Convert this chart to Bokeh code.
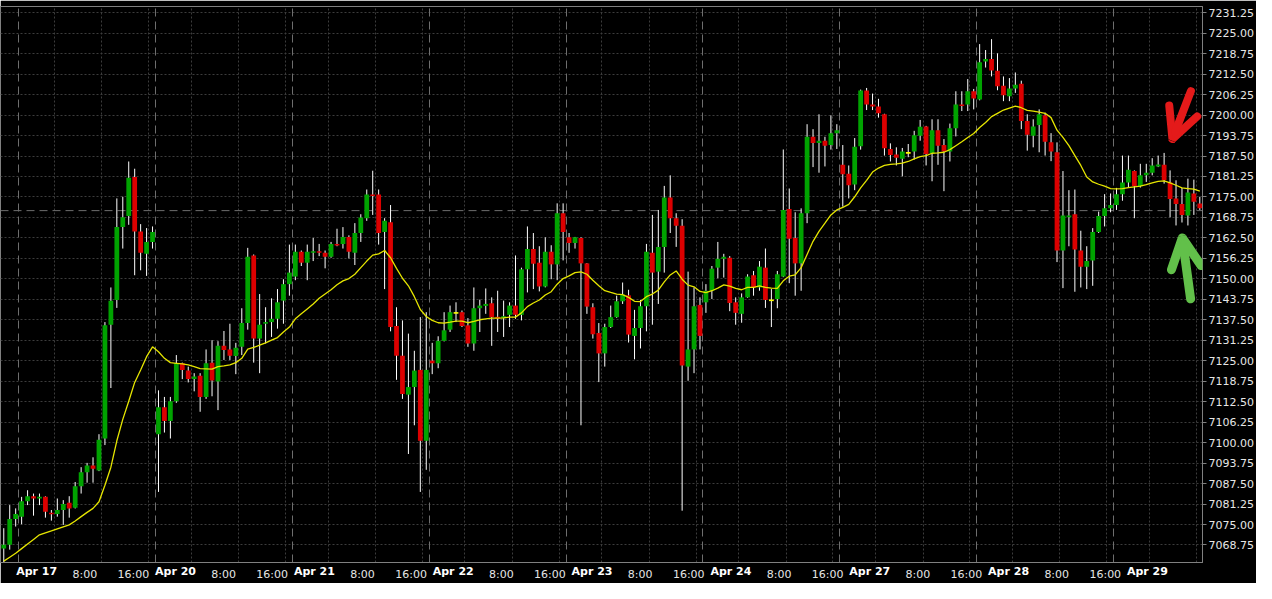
from bokeh.plotting import figure
from bokeh.models import (ColumnDataSource, FixedTicker, Range1d, Span, LinearAxis,
                          Grid, PrintfTickFormatter, Arrow, OpenHead)
from bokeh.embed import file_html
from bokeh.resources import INLINE

# ---------------- data (hourly candles) ----------------
open_ = [7067.64, 7068.84, 7076.70, 7077.40, 7082.13, 7083.64, 7082.94, 7083.44, 7078.61, 7078.21,
         7079.42, 7081.63, 7080.12, 7086.66, 7090.99, 7093.01, 7091.50, 7101.26, 7136.00, 7143.55,
         7165.80, 7169.22, 7181.10, 7164.49, 7157.64, 7161.27, 7102.57, 7110.83, 7106.60, 7112.64,
         7124.22, 7122.00, 7119.39, 7120.39, 7113.95, 7124.42, 7118.68, 7129.55, 7128.45, 7126.43,
         7129.25, 7136.50, 7157.14, 7131.77, 7136.30, 7136.80, 7137.81, 7143.35, 7148.38, 7150.70,
         7158.25, 7154.93, 7157.95, 7158.45, 7157.95, 7156.74, 7160.66, 7160.66, 7162.78, 7157.95,
         7163.99, 7168.52, 7175.77, 7175.77, 7164.29, 7167.31, 7135.60, 7126.53, 7114.65, 7116.97,
         7122.20, 7100.56, 7125.02, 7124.22, 7131.06, 7134.49, 7139.60, 7139.82, 7135.80, 7130.26,
         7141.03, 7141.74, 7142.54, 7138.31, 7138.01, 7139.02, 7141.84, 7139.02, 7152.91, 7159.15,
         7154.93, 7147.68, 7158.25, 7154.42, 7170.03, 7162.68, 7160.97, 7162.48, 7154.72, 7141.33,
         7133.48, 7127.24, 7135.29, 7138.31, 7143.15, 7144.96, 7132.57, 7134.99, 7141.64, 7157.95,
         7152.21, 7159.76, 7174.86, 7168.52, 7166.20, 7123.21, 7128.45, 7142.04, 7142.84, 7146.37,
         7153.42, 7156.13, 7156.44, 7142.84, 7139.32, 7144.35, 7151.10, 7147.37, 7153.42, 7143.45,
         7143.85, 7150.70, 7171.34, 7162.48, 7154.72, 7170.02, 7193.38, 7191.47, 7192.17, 7190.86,
         7194.49, 7184.82, 7182.10, 7178.78, 7190.46, 7207.48, 7203.25, 7202.64, 7200.23, 7189.66,
         7187.94, 7186.64, 7188.45, 7188.85, 7193.68, 7196.50, 7188.45, 7195.39, 7190.86, 7188.85,
         7196.00, 7203.25, 7203.25, 7207.27, 7204.76, 7216.34, 7217.14, 7213.52, 7208.99, 7205.76,
         7208.08, 7209.59, 7198.21, 7193.68, 7197.00, 7199.92, 7191.67, 7188.65, 7158.65, 7168.81,
         7169.72, 7158.65, 7153.71, 7155.63, 7164.28, 7169.22, 7171.53, 7172.54, 7175.86, 7179.39,
         7182.91, 7178.38, 7181.60, 7182.41, 7184.32, 7184.82, 7179.39, 7174.55, 7172.84, 7169.32,
         7176.06, 7173.04]

high = [7073.88, 7080.93, 7079.92, 7083.44, 7085.46, 7084.45, 7084.45, 7083.60, 7079.42, 7082.94,
        7082.44, 7083.64, 7087.97, 7092.50, 7093.81, 7095.52, 7102.57, 7136.80, 7147.37, 7174.56,
        7175.06, 7185.83, 7183.62, 7166.71, 7165.50, 7166.00, 7115.96, 7113.95, 7113.95, 7126.73,
        7124.42, 7123.21, 7121.20, 7121.20, 7128.45, 7131.27, 7130.97, 7134.08, 7136.30, 7130.46,
        7141.03, 7159.46, 7157.44, 7145.36, 7141.33, 7144.05, 7146.87, 7149.89, 7160.46, 7160.46,
        7158.65, 7160.46, 7162.48, 7160.66, 7158.65, 7161.27, 7165.30, 7165.80, 7163.28, 7167.01,
        7169.73, 7177.28, 7183.01, 7177.28, 7168.52, 7172.54, 7141.33, 7137.31, 7133.28, 7128.04,
        7138.31, 7139.82, 7130.46, 7132.47, 7139.82, 7141.84, 7142.84, 7140.33, 7138.01, 7147.37,
        7143.65, 7147.07, 7144.35, 7146.37, 7143.35, 7142.84, 7157.14, 7153.41, 7166.00, 7163.99,
        7159.96, 7162.68, 7160.26, 7173.05, 7173.05, 7163.99, 7162.80, 7162.68, 7154.80, 7142.54,
        7136.50, 7136.30, 7141.84, 7144.86, 7148.88, 7146.67, 7140.53, 7143.55, 7160.66, 7169.52,
        7171.03, 7178.38, 7181.61, 7170.03, 7168.22, 7152.21, 7147.37, 7144.35, 7148.38, 7153.92,
        7161.27, 7157.64, 7156.94, 7144.35, 7145.56, 7151.40, 7152.41, 7155.43, 7159.26, 7146.87,
        7152.41, 7189.50, 7177.58, 7170.33, 7171.53, 7197.21, 7195.70, 7200.23, 7193.38, 7199.92,
        7197.21, 7190.86, 7184.62, 7192.98, 7207.78, 7208.28, 7206.57, 7204.96, 7200.40, 7191.37,
        7190.16, 7189.96, 7191.17, 7195.19, 7198.52, 7196.70, 7198.72, 7198.72, 7192.68, 7197.41,
        7207.27, 7207.27, 7211.00, 7207.98, 7221.67, 7219.86, 7223.18, 7218.85, 7211.80, 7211.30,
        7213.01, 7210.50, 7200.23, 7198.72, 7201.74, 7200.73, 7194.49, 7191.67, 7182.91, 7177.07,
        7177.27, 7164.69, 7159.96, 7165.49, 7170.53, 7175.86, 7176.06, 7177.77, 7187.64, 7187.64,
        7183.11, 7185.12, 7185.12, 7186.84, 7187.64, 7188.45, 7183.11, 7180.09, 7177.77, 7180.59,
        7180.29, 7175.06]

low = [7061.80, 7067.33, 7074.38, 7075.09, 7080.93, 7077.70, 7080.93, 7077.10, 7076.19, 7077.40,
       7074.88, 7077.10, 7079.90, 7084.45, 7087.77, 7087.77, 7091.30, 7099.25, 7116.67, 7141.13,
       7159.25, 7166.50, 7151.10, 7152.61, 7150.90, 7159.25, 7084.95, 7103.08, 7101.26, 7112.14,
       7119.39, 7118.38, 7115.66, 7109.42, 7113.35, 7114.15, 7109.92, 7125.23, 7125.23, 7120.90,
       7126.73, 7134.49, 7124.42, 7121.20, 7130.26, 7132.27, 7134.79, 7136.30, 7144.86, 7149.59,
       7153.92, 7149.59, 7155.43, 7156.94, 7153.21, 7156.44, 7159.96, 7159.25, 7156.23, 7154.22,
       7161.27, 7167.71, 7169.52, 7160.46, 7146.87, 7133.98, 7119.18, 7113.35, 7096.53, 7105.29,
       7084.95, 7091.70, 7120.90, 7122.71, 7130.90, 7133.78, 7136.80, 7135.29, 7129.25, 7128.04,
       7133.78, 7139.32, 7129.55, 7133.78, 7132.27, 7135.29, 7137.81, 7137.31, 7145.86, 7146.87,
       7146.17, 7147.40, 7149.89, 7149.59, 7155.63, 7157.95, 7159.25, 7105.29, 7139.32, 7131.77,
       7118.48, 7123.21, 7135.00, 7138.10, 7142.34, 7130.56, 7125.43, 7128.75, 7133.98, 7136.00,
       7142.34, 7151.91, 7163.99, 7159.76, 7079.21, 7118.88, 7121.20, 7128.45, 7139.62, 7143.85,
       7150.19, 7150.39, 7140.13, 7136.00, 7136.60, 7144.20, 7144.86, 7146.37, 7141.13, 7135.29,
       7141.03, 7150.50, 7148.68, 7144.86, 7146.36, 7167.00, 7184.12, 7182.41, 7184.32, 7189.45,
       7189.65, 7172.04, 7174.55, 7177.07, 7189.45, 7201.54, 7201.54, 7199.22, 7187.64, 7185.83,
       7184.62, 7181.30, 7187.14, 7186.43, 7192.17, 7184.62, 7179.79, 7184.82, 7176.77, 7185.83,
       7193.48, 7201.23, 7201.23, 7201.74, 7204.50, 7214.52, 7211.81, 7207.58, 7204.25, 7204.25,
       7206.77, 7195.70, 7189.15, 7190.16, 7188.65, 7187.64, 7185.93, 7155.12, 7147.17, 7159.95,
       7146.06, 7147.37, 7146.87, 7147.87, 7164.00, 7166.00, 7170.32, 7171.03, 7173.85, 7177.77,
       7168.51, 7177.88, 7179.59, 7181.60, 7184.12, 7179.08, 7168.81, 7166.30, 7167.20, 7166.30,
       7169.52, 7171.03]

close = [7068.84, 7076.70, 7078.21, 7082.13, 7083.64, 7082.94, 7083.44, 7078.91, 7078.11, 7079.42,
         7081.23, 7079.92, 7086.66, 7090.99, 7093.01, 7092.00, 7100.86, 7135.80, 7143.35, 7165.80,
         7168.82, 7180.90, 7164.49, 7157.95, 7161.27, 7164.29, 7110.83, 7106.60, 7112.64, 7124.22,
         7122.20, 7119.39, 7120.19, 7113.95, 7124.22, 7118.98, 7129.55, 7128.25, 7126.53, 7128.95,
         7136.50, 7156.74, 7131.77, 7136.00, 7136.80, 7137.81, 7142.84, 7148.38, 7151.91, 7158.25,
         7154.93, 7158.25, 7158.45, 7157.95, 7156.74, 7160.66, 7160.16, 7162.78, 7158.25, 7163.99,
         7168.72, 7175.77, 7175.26, 7163.99, 7167.71, 7135.29, 7126.53, 7114.85, 7116.97, 7122.00,
         7100.56, 7122.20, 7124.22, 7131.06, 7134.29, 7139.82, 7139.60, 7135.60, 7130.26, 7141.03,
         7141.84, 7142.34, 7138.31, 7138.01, 7138.61, 7141.84, 7139.02, 7152.91, 7159.15, 7154.62,
         7147.68, 7158.25, 7154.42, 7170.03, 7164.29, 7160.97, 7162.68, 7154.72, 7141.53, 7133.08,
         7127.24, 7135.29, 7138.31, 7143.15, 7145.16, 7132.98, 7134.99, 7141.64, 7158.25, 7151.91,
         7159.76, 7174.86, 7168.52, 7166.20, 7123.51, 7128.45, 7141.64, 7132.57, 7146.37, 7153.11,
         7156.13, 7156.74, 7142.64, 7139.62, 7144.35, 7150.70, 7147.37, 7153.72, 7143.55, 7143.45,
         7151.40, 7171.03, 7162.28, 7154.72, 7170.02, 7193.38, 7191.47, 7192.17, 7190.66, 7194.49,
         7195.39, 7181.90, 7178.58, 7190.36, 7207.48, 7203.25, 7202.64, 7200.53, 7189.86, 7187.84,
         7186.94, 7188.85, 7188.45, 7193.88, 7196.40, 7188.14, 7195.39, 7190.66, 7188.85, 7196.00,
         7203.25, 7202.74, 7207.27, 7205.06, 7216.13, 7217.14, 7213.62, 7208.78, 7206.07, 7208.08,
         7209.29, 7198.21, 7193.98, 7196.50, 7200.23, 7191.87, 7188.85, 7158.65, 7169.32, 7169.32,
         7158.95, 7153.71, 7155.42, 7164.29, 7169.22, 7171.53, 7172.54, 7175.86, 7179.39, 7183.31,
         7178.38, 7181.60, 7182.41, 7184.62, 7184.92, 7180.09, 7174.35, 7172.84, 7169.52, 7176.37,
         7173.55, 7171.53]

moving_avg = [7063.81, 7065.02, 7066.23, 7067.64, 7069.05, 7070.45, 7071.86, 7072.47, 7073.07, 7073.68,
              7074.28, 7074.88, 7076.09, 7077.40, 7078.71, 7079.92, 7081.93, 7086.97, 7092.50, 7100.56,
              7107.10, 7112.64, 7118.38, 7122.20, 7126.23, 7129.25, 7127.74, 7125.73, 7124.42, 7124.22,
              7124.02, 7123.71, 7123.21, 7122.61, 7122.51, 7122.41, 7123.21, 7123.41, 7123.71, 7124.42,
              7125.73, 7128.55, 7129.05, 7129.76, 7130.46, 7131.27, 7132.07, 7133.78, 7135.29, 7137.81,
              7139.32, 7140.83, 7142.34, 7144.05, 7145.36, 7146.67, 7148.18, 7149.39, 7150.09, 7151.40,
              7153.42, 7155.43, 7157.24, 7157.64, 7158.65, 7156.44, 7153.21, 7150.19, 7147.88, 7144.56,
              7140.63, 7138.51, 7137.31, 7136.60, 7136.50, 7136.80, 7137.11, 7137.11, 7136.60, 7137.00,
              7137.51, 7137.81, 7138.01, 7138.01, 7138.11, 7138.31, 7138.31, 7139.62, 7141.53, 7142.64,
              7143.55, 7145.06, 7146.07, 7148.38, 7150.09, 7150.90, 7151.90, 7152.11, 7151.40, 7149.59,
              7147.88, 7146.37, 7145.86, 7145.36, 7145.16, 7144.35, 7143.15, 7143.05, 7144.56, 7145.36,
              7146.57, 7149.09, 7151.20, 7152.41, 7149.89, 7148.08, 7147.58, 7146.17, 7145.76, 7146.37,
              7147.17, 7148.18, 7147.78, 7147.07, 7146.67, 7147.37, 7147.37, 7147.88, 7147.37, 7147.17,
              7147.07, 7149.39, 7150.80, 7151.20, 7153.41, 7157.44, 7161.46, 7164.49, 7167.00, 7169.52,
              7171.03, 7171.83, 7172.74, 7175.06, 7177.77, 7180.09, 7182.61, 7183.82, 7184.62, 7184.92,
              7185.12, 7185.33, 7185.83, 7186.63, 7187.34, 7187.64, 7188.35, 7188.45, 7188.65, 7189.45,
              7190.66, 7191.87, 7193.18, 7194.39, 7196.20, 7197.71, 7199.52, 7200.53, 7201.54, 7202.14,
              7202.74, 7202.24, 7201.44, 7201.23, 7200.93, 7200.53, 7199.22, 7195.39, 7193.18, 7190.66,
              7187.64, 7184.62, 7181.10, 7179.59, 7178.88, 7178.28, 7177.57, 7177.47, 7177.57, 7177.88,
              7178.08, 7178.28, 7178.78, 7179.29, 7179.79, 7179.89, 7179.29, 7178.58, 7177.77, 7177.57,
              7177.37, 7176.77]

# first candle of every trading day (index into the arrays)
day_start = [3, 26, 49, 72, 95, 118, 141, 164, 187]
day_labels = ["Apr 17", "Apr 20", "Apr 21", "Apr 22", "Apr 23", "Apr 24", "Apr 27", "Apr 28", "Apr 29"]
hour_labels = ["8:00", "16:00"]
price_ticks = [7068.75, 7075.00, 7081.25, 7087.50, 7093.75, 7100.00, 7106.25, 7112.50, 7118.75,
               7125.00, 7131.25, 7137.50, 7143.75, 7150.00, 7156.25, 7162.50, 7168.75, 7175.00,
               7181.25, 7187.50, 7193.75, 7200.00, 7206.25, 7212.50, 7218.75, 7225.00, 7231.25]
bid_price = 7170.83

# ---------------- styling ----------------
UP, DOWN, DOJI = "#00a300", "#dc0000", "#ffff00"
GRID, SEP, FRAME = "#3c3c3c", "#6e6e6e", "#808080"
FONT = "DejaVu Sans"

N = len(close)
idx = list(range(N))
body_top, body_bot, colors = [], [], []
for o, c in zip(open_, close):
    top, bot = max(o, c), min(o, c)
    if top - bot < 0.5:
        mid = (top + bot) / 2.0
        top, bot = mid + 0.25, mid - 0.25
    body_top.append(top)
    body_bot.append(bot)
    colors.append(UP if c > o else (DOWN if c < o else DOJI))

src = ColumnDataSource(dict(x=idx, h=high, l=low, top=body_top, bot=body_bot, color=colors))

x_lo, x_hi = -0.55, N - 0.55
p = figure(width=1256, height=583,
           x_range=Range1d(x_lo, x_hi), y_range=Range1d(7063.40, 7233.15),
           output_backend="svg", toolbar_location=None, y_axis_location="right",
           background_fill_color="#000000", border_fill_color="#000000",
           min_border_left=0, min_border_top=6, min_border_right=52, min_border_bottom=15)
p.outline_line_color = FRAME

# grids
p.ygrid.ticker = FixedTicker(ticks=price_ticks)
p.ygrid.grid_line_color = GRID
p.ygrid.grid_line_dash = "2 2"
hour_grid = []
for s in day_start:
    for off in (6.0, 14.0, 21.85):
        g = s - 0.5 + off
        if g < x_hi:
            hour_grid.append(g)
p.xgrid.ticker = FixedTicker(ticks=hour_grid)
p.xgrid.grid_line_color = GRID
p.xgrid.grid_line_dash = "2 2"
p.add_layout(Grid(dimension=0, ticker=FixedTicker(ticks=[s - 0.5 for s in day_start]),
                  grid_line_color=SEP, grid_line_dash="8 5"))
p.add_layout(Span(location=bid_price, dimension="width", line_color=SEP,
                  line_dash="8 5", line_width=1, level="underlay"))

# candles
p.segment(x0="x", y0="l", x1="x", y1="h", source=src, line_color="#ffffff", line_width=1)
p.vbar(x="x", width=0.8, top="top", bottom="bot", source=src, fill_color="color", line_color=None)
# moving average
p.line(idx, moving_avg, line_color="#e6e600", line_width=1.3)

# right price axis
ya = p.yaxis[0]
ya.ticker = FixedTicker(ticks=price_ticks)
ya.formatter = PrintfTickFormatter(format="%.2f")
ya.major_label_text_font = FONT
ya.major_label_text_font_size = "11px"
ya.major_label_text_color = "#e6e6e6"
ya.major_label_standoff = 2
ya.axis_line_color = FRAME
ya.major_tick_line_color = FRAME
ya.major_tick_out = 4
ya.major_tick_in = 0
ya.minor_tick_line_color = None

# bottom time axis: day labels (bold)
label_step = 140.0 / 6.0
day_pos = [round(5.53 + k * label_step, 3) for k in range(len(day_labels))]
xa = p.xaxis[0]
xa.ticker = FixedTicker(ticks=day_pos)
xa.major_label_overrides = {pos: lab for pos, lab in zip(day_pos, day_labels)}
xa.major_label_text_font = FONT
xa.major_label_text_font_size = "11px"
xa.major_label_text_font_style = "bold"
xa.major_label_text_color = "#ffffff"
xa.major_label_standoff = 2
xa.axis_line_color = FRAME
xa.major_tick_line_color = None
xa.major_tick_out = 0
xa.major_tick_in = 0
xa.minor_tick_line_color = None

# second bottom axis for the hour labels, lifted onto the same row
hour_pos, hour_text = [], []
for k in range(len(day_labels) - 1):
    for lab, off in zip(hour_labels, (8.09, 16.25)):
        pos = round(5.53 + off + k * label_step, 3)
        hour_pos.append(pos)
        hour_text.append(lab)
ha = LinearAxis(ticker=FixedTicker(ticks=hour_pos),
                major_label_overrides={pos: lab for pos, lab in zip(hour_pos, hour_text)},
                major_label_text_font=FONT, major_label_text_font_size="11px",
                major_label_text_color="#e6e6e6", major_label_standoff=-13,
                axis_line_color=None, major_tick_line_color=None, major_tick_out=0,
                major_tick_in=0, minor_tick_line_color=None)
p.add_layout(ha, "below")

# hand-drawn style arrows
p.add_layout(Arrow(x_start=199.5, y_start=7207.3, x_end=196.4, y_end=7192.7,
                   line_color="#e41a1a", line_width=8, line_cap="round",
                   end=OpenHead(size=30, line_color="#e41a1a", line_width=8, line_cap="round")))
p.add_layout(Arrow(x_start=199.45, y_start=7143.9, x_end=198.05, y_end=7162.5,
                   line_color="#62c04a", line_width=9, line_cap="round",
                   end=OpenHead(size=30, line_color="#62c04a", line_width=9, line_cap="round")))

open("out.html", "w").write(file_html(p, INLINE))
